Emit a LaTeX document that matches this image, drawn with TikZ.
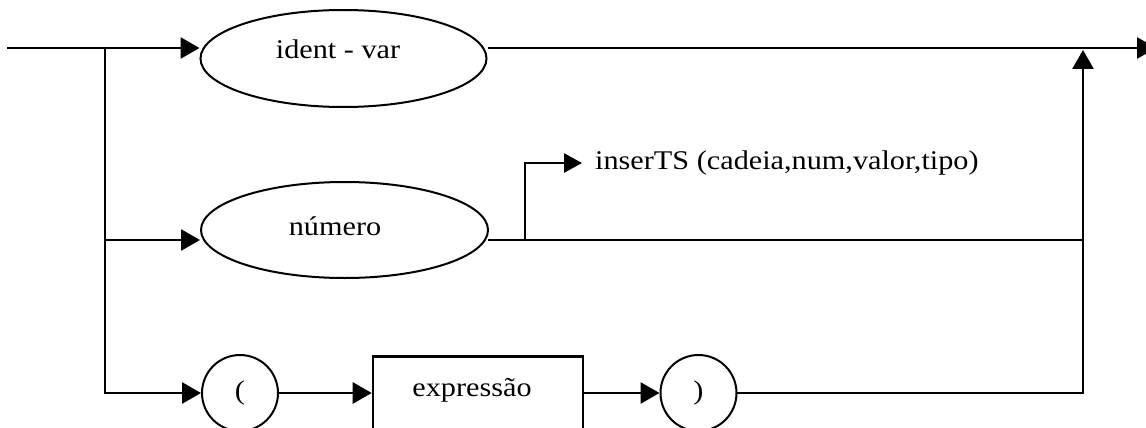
\documentclass[tikz,border=0pt]{standalone}
\usepackage{fontspec}
\setmainfont{Liberation Serif}[FakeStretch=1.12]
\usetikzlibrary{arrows.meta,shapes.geometric}
\begin{document}
\begin{tikzpicture}[x=1pt,y=-1pt,
  conn/.style={line width=2.8pt,line cap=rect},
  arr/.style={line width=2.8pt,-{Triangle[length=19pt,width=21pt]}},
  tok/.style={draw,line width=2pt,inner sep=0pt,font=\fontsize{27}{30}\selectfont},
  lbl/.style={inner sep=0pt,font=\fontsize{27}{30}\selectfont}]
\clip (0,0) rectangle (1146,428);
% junction points
\coordinate (start) at (8,48);
\coordinate (split) at (105,48);
\coordinate (j2) at (105,240);
\coordinate (j3) at (105,393);
\coordinate (b2) at (525,240);
\coordinate (riseB) at (1083,393);
\coordinate (riseT) at (1083,50);
\coordinate (stop) at (1156,48);
% nodes
\node[tok,ellipse,minimum width=286pt,minimum height=97pt] (idv) at (343.5,58.5) {};
\node[lbl] (idvt) at (338,49) {ident - var};
\node[tok,ellipse,minimum width=287pt,minimum height=96pt] (num) at (344.5,230) {};
\node[lbl] (numt) at (335,226) {número};
\node[lbl,anchor=west] (ins) at (595,163) {inserTS (cadeia,num,valor,tipo)};
\node[tok,circle,minimum size=76pt] (lp) at (240,393) {(};
\node[draw,line width=2.6pt,minimum width=210pt,minimum height=120pt,anchor=north,inner sep=0pt] (expr) at (478,355) {};
\node[lbl] (exprt) at (472,390) {expressão};
\node[tok,circle,minimum size=76pt] (rp) at (698.5,393) {)};
% row 1
\draw[conn] (start) -- (split);
\draw[arr] (split) -- (idv.west |- split);
\draw[arr] (idv.east |- split) -- (stop);
% left spine
\draw[conn] (split) -- (j3);
% row 2
\draw[arr] (j2) -- (num.west |- j2);
\draw[conn] (num.east |- j2) -- (riseB |- j2);
\draw[line width=2.8pt,-{Triangle[length=18pt,width=19pt]},shorten >=13pt] (b2) |- (ins.west);
% row 3
\draw[arr] (j3) -- (lp);
\draw[arr] (lp) -- (expr.west |- lp);
\draw[arr] (expr.east |- rp) -- (rp);
\draw[conn] (rp) -- (riseB);
\draw[arr] (riseB) -- (riseT);
\end{tikzpicture}
\end{document}
